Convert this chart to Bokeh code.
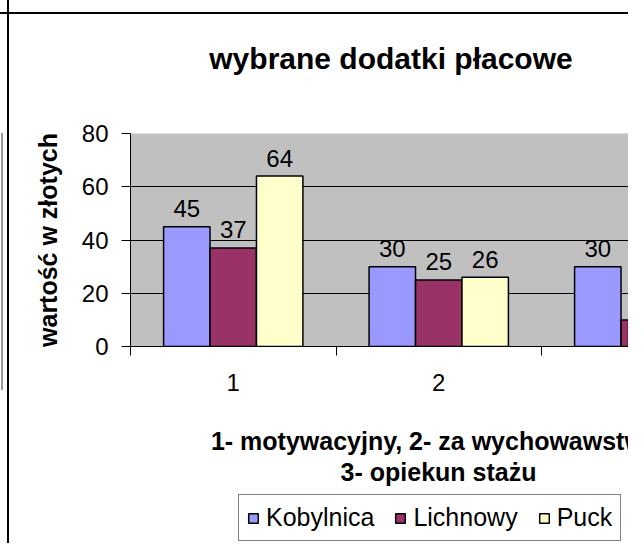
import math
from bokeh.plotting import figure
from bokeh.layouts import column
from bokeh.models import (ColumnDataSource, Range1d, LinearAxis, FixedTicker, Grid,
                          Label, Legend, LegendItem, InlineStyleSheet)
from bokeh.core.properties import value
from bokeh.transform import dodge
from bokeh.embed import file_html
from bokeh.resources import INLINE

# ---- data ----
categories = [1, 2, 3]
category_labels = ["1", "2", "3"]
series_names = ["Kobylnica", "Lichnowy", "Puck"]
kobylnica = [45, 30, 30]
lichnowy = [37, 25, 10]
puck = [64, 26, float("nan")]  # third value lies outside the cropped picture
y_ticks = [0, 20, 40, 60, 80]
boundary_ticks = [0.5, 1.5, 2.5]

title_text = "wybrane dodatki płacowe"
y_title = "wartość w złotych"
x_title_lines = ["1- motywacyjny, 2- za wychowawstwo,", "3- opiekun stażu"]

# ---- style ----
colors = ["#9999FF", "#993366", "#FFFFCC"]
FONT = "Liberation Sans"
W = 628
HEAD_H, MAIN_H, FOOT_H = 100, 306, 137
ML, MT, FH = 130, 33, 213
FW = W - ML
cat_px = 205.5
bar_w = 0.226


def border_css(top_line=None, gray=None):
    layers = ["linear-gradient(#000, #000) 7px 0px / 2px 100% no-repeat"]
    if top_line is not None:
        layers.append(f"linear-gradient(#000, #000) 0px {top_line}px / 100% 2px no-repeat")
    if gray is not None:
        layers.append(f"linear-gradient(#9a9a9a, #9a9a9a) 1px {gray[0]}px / 2px {gray[1]}px no-repeat")
    return [InlineStyleSheet(css=":host { background: " + ", ".join(layers) + ", #ffffff; }")]


def blank_fig(h, y0):
    # frame spans x = ML..W (aligned with the main chart by the column), full height
    f = figure(width=W, height=h, output_backend="svg", toolbar_location=None,
               title_location=None,
               x_range=Range1d(ML, W), y_range=Range1d(y0 + h, y0),
               x_axis_location=None, y_axis_location=None,
               min_border_left=ML, min_border_right=0, min_border_top=0, min_border_bottom=0,
               background_fill_color=None, border_fill_color=None,
               outline_line_color=None)
    for g in list(f.xgrid) + list(f.ygrid):
        g.visible = False
    return f


# ---------- header: title ----------
head = blank_fig(HEAD_H, 0)
head.stylesheets = border_css(top_line=12)
head.add_layout(Label(x=390.5, y=58, text=title_text, text_font=FONT, text_font_size="30px",
                      text_font_style="bold", text_align="center", text_baseline="alphabetic",
                      text_color="black"))

# ---------- main chart ----------
p = figure(width=W, height=MAIN_H, output_backend="svg", toolbar_location=None,
           title_location=None,
           x_range=Range1d(0.5, 0.5 + FW / cat_px), y_range=Range1d(0, 80),
           x_axis_location=None, min_border_left=ML, min_border_right=0,
           min_border_top=MT, min_border_bottom=MAIN_H - MT - FH,
           background_fill_color="#C0C0C0", border_fill_color=None,
           outline_line_color=None)
p.stylesheets = border_css(gray=(33, 257))
for g in p.xgrid:
    g.visible = False

ya = p.yaxis[0]
ya.ticker = FixedTicker(ticks=y_ticks)
ya.major_tick_out = 9
ya.major_tick_in = 0
ya.minor_tick_line_color = None
ya.axis_line_color = "black"
ya.major_tick_line_color = "black"
ya.major_label_standoff = 13
ya.major_label_text_font = FONT
ya.major_label_text_font_size = "24px"
ya.major_label_text_color = "black"
ya.axis_label = y_title
ya.axis_label_text_font = FONT
ya.axis_label_text_font_size = "25px"
ya.axis_label_text_font_style = "bold"
ya.axis_label_text_color = "black"
ya.axis_label_standoff = 17

p.ygrid[0].ticker = FixedTicker(ticks=[20, 40, 60])
p.ygrid[0].grid_line_color = "black"
p.ygrid[0].grid_line_width = 1
p.add_layout(Grid(dimension=1, ticker=FixedTicker(ticks=[80]), grid_line_color="#808080"))

xa1 = LinearAxis(ticker=FixedTicker(ticks=boundary_ticks))
xa1.major_tick_out = 9
xa1.major_tick_in = 0
xa1.minor_tick_line_color = None
xa1.axis_line_color = "black"
xa1.major_label_overrides = {t: "" for t in boundary_ticks}
xa1.major_label_standoff = 0
p.add_layout(xa1, "below")

xa2 = LinearAxis(ticker=FixedTicker(ticks=categories))
xa2.major_label_overrides = {c: l for c, l in zip(categories, category_labels)}
xa2.axis_line_color = None
xa2.major_tick_line_color = None
xa2.minor_tick_line_color = None
xa2.major_tick_out = 0
xa2.major_tick_in = 0
xa2.major_label_standoff = 18
xa2.major_label_text_font = FONT
xa2.major_label_text_font_size = "24px"
xa2.major_label_text_color = "black"
p.add_layout(xa2, "below")

src = ColumnDataSource(dict(x=categories, Kobylnica=kobylnica, Lichnowy=lichnowy, Puck=puck))
offsets = [-bar_w, 0.0, bar_w]
for name, col, off in zip(series_names, colors, offsets):
    p.vbar(x=dodge("x", off, range=p.x_range), top=name, bottom=0, width=bar_w,
           source=src, fill_color=col, line_color="black", line_width=1.5)
    vals = src.data[name]
    xs = [c for c, v in zip(categories, vals) if not math.isnan(v)]
    ys = [v for v in vals if not math.isnan(v)]
    lsrc = ColumnDataSource(dict(x=xs, y=ys, t=[f"{v:g}" for v in ys]))
    p.text(x=dodge("x", off, range=p.x_range), y="y", text="t", source=lsrc,
           text_align="center", text_baseline="alphabetic", y_offset=-18,
           text_font=value(FONT), text_font_size="24px", text_color="black")

# ---------- footer: x-axis title and legend ----------
foot = blank_fig(FOOT_H, HEAD_H + MAIN_H)
foot.stylesheets = border_css()
for txt, yb in zip(x_title_lines, [440, 471]):
    foot.add_layout(Label(x=438, y=yb, text=txt, text_font=FONT, text_font_size="25px",
                          text_font_style="bold", text_align="center", text_baseline="alphabetic",
                          text_color="black"))

# legend swatch renderers: one undrawable (NaN) row each, so only the legend shows them
swatches = []
for name, col in zip(series_names, colors):
    s = ColumnDataSource(dict(x=[float("nan")], top=[float("nan")]))
    swatches.append(foot.vbar(x="x", top="top", width=1, source=s, fill_color=col,
                              line_color="black", line_width=1.5))
legend = Legend(items=[LegendItem(label=n, renderers=[r], index=0) for n, r in zip(series_names, swatches)],
                orientation="horizontal", location=(238 - ML, 2), margin=0, padding=8,
                spacing=20, glyph_width=12, glyph_height=12, label_standoff=7,
                label_text_font=FONT, label_text_font_size="25px", label_text_color="black",
                border_line_color="black", border_line_width=1.5,
                background_fill_color="white", background_fill_alpha=1.0)
foot.add_layout(legend)

layout = column(head, p, foot, spacing=0)
open("out.html", "w").write(file_html(layout, INLINE))
